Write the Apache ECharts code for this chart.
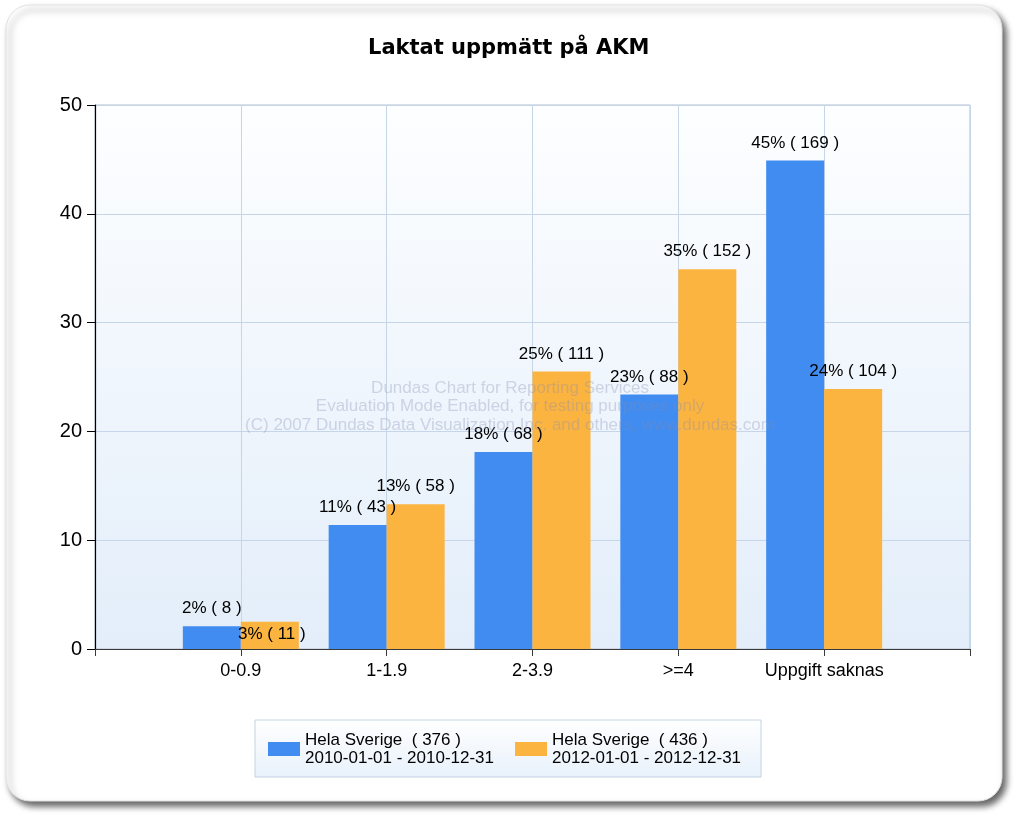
<!DOCTYPE html>
<html>
<head>
<meta charset="utf-8">
<script src="https://cdn.jsdelivr.net/npm/echarts@6/dist/echarts.min.js"></script>
<style>html,body{margin:0;padding:0;background:#fff;}#c{width:1024px;height:819px;}</style>
</head>
<body>
<div id="c"></div>
<script>
// Categories (blank entries pad the axis at both ends, as in the reference)
const categories = ['', '0-0.9', '1-1.9', '2-3.9', '>=4', 'Uppgift saknas', ''];
const yTicks = [0, 10, 20, 30, 40, 50];

// Series 1: Hela Sverige 2010
const s1Name = 'Hela Sverige  ( 376 )\n2010-01-01 - 2010-12-31';
const s1Values = [2.1, 11.4, 18.1, 23.4, 44.9];
const s1Pct = [2, 11, 18, 23, 45];
const s1Count = [8, 43, 68, 88, 169];

// Series 2: Hela Sverige 2012
const s2Name = 'Hela Sverige  ( 436 )\n2012-01-01 - 2012-12-31';
const s2Values = [2.5, 13.3, 25.5, 34.9, 23.9];
const s2Pct = [3, 13, 25, 35, 24];
const s2Count = [11, 58, 111, 152, 104];

const watermark = [
  'Dundas Chart for Reporting Services',
  'Evaluation Mode Enabled, for testing purposes only',
  '(C) 2007 Dundas Data Visualization Inc. and others, www.dundas.com'
];

const FONT = '"Liberation Sans", Arial, sans-serif';

function buildData(values, pct, count, shifted) {
  const out = [null];
  values.forEach((v, i) => {
    const item = { value: v, lbl: pct[i] + '% ( ' + count[i] + ' )' };
    if (shifted && shifted.index === i) {
      item.label = { offset: shifted.offset };
    }
    out.push(item);
  });
  out.push(null);
  return out;
}

const chart = echarts.init(document.getElementById('c'), null, { renderer: 'canvas' });

const labelCfg = {
  show: true,
  position: 'top',
  distance: 9,
  fontFamily: FONT,
  fontSize: 17,
  color: '#000',
  formatter: p => p.data && p.data.lbl ? p.data.lbl : ''
};

chart.setOption({
  animation: false,
  backgroundColor: '#ffffff',
  graphic: [
    {
      type: 'rect',
      z: -100,
      silent: true,
      shape: { x: 6, y: 5, width: 996, height: 796, r: 24 },
      style: {
        fill: '#ffffff',
        stroke: '#e2e2e2',
        lineWidth: 1,
        shadowBlur: 6,
        shadowOffsetX: 4,
        shadowOffsetY: 5,
        shadowColor: 'rgba(0,0,0,0.6)'
      }
    },
    {
      type: 'group',
      z: 100,
      silent: true,
      children: watermark.map((t, i) => ({
        type: 'text',
        z: 100,
        style: {
          text: t,
          x: 510,
          y: 388 + i * 18.5,
          align: 'center',
          verticalAlign: 'middle',
          fontFamily: FONT,
          fontSize: 17,
          fill: 'rgba(130,140,180,0.33)'
        }
      }))
    }
  ],
  title: {
    text: 'Laktat uppmätt på AKM',
    left: 368,
    top: 38,
    padding: 0,
    textStyle: {
      fontFamily: '"DejaVu Sans", Verdana, sans-serif',
      fontWeight: 'bold',
      fontSize: 21,
      color: '#000'
    }
  },
  legend: {
    left: 255,
    top: 720,
    orient: 'horizontal',
    padding: [11, 20, 10, 13],
    itemWidth: 32,
    itemHeight: 14,
    itemGap: 21,
    icon: 'rect',
    backgroundColor: {
      type: 'linear', x: 0, y: 0, x2: 0, y2: 1,
      colorStops: [{ offset: 0, color: '#ffffff' }, { offset: 1, color: '#e8f1fb' }]
    },
    borderColor: '#c4d2e2',
    borderWidth: 1,
    borderRadius: 0,
    textStyle: {
      fontFamily: FONT,
      fontSize: 17,
      lineHeight: 18,
      color: '#000'
    },
    data: [s1Name, s2Name]
  },
  grid: {
    left: 95,
    right: 54,
    top: 105,
    bottom: 170,
    show: true,
    borderColor: '#b4bfd0',
    borderWidth: 1,
    backgroundColor: {
      type: 'linear', x: 0, y: 0, x2: 0, y2: 1,
      colorStops: [{ offset: 0, color: '#fdfeff' }, { offset: 1, color: '#e3eefa' }]
    }
  },
  xAxis: {
    type: 'category',
    data: categories,
    boundaryGap: false,
    axisLine: { show: true, lineStyle: { color: '#3a3a3a', width: 1 } },
    axisTick: { show: true, length: 7, interval: 0, lineStyle: { color: '#3a3a3a' } },
    axisLabel: {
      interval: 0,
      margin: 13,
      fontFamily: FONT,
      fontSize: 18,
      color: '#000'
    },
    splitLine: { show: true, interval: 0, lineStyle: { color: '#c6d6e8', width: 1 } }
  },
  yAxis: {
    type: 'value',
    min: yTicks[0],
    max: yTicks[yTicks.length - 1],
    interval: yTicks[1] - yTicks[0],
    axisLine: { show: true, lineStyle: { color: '#000', width: 1.2 } },
    axisTick: { show: true, length: 8, lineStyle: { color: '#000' } },
    axisLabel: {
      margin: 13,
      fontFamily: FONT,
      fontSize: 20,
      color: '#000'
    },
    splitLine: { show: true, lineStyle: { color: '#c6d6e8', width: 1 } }
  },
  series: [
    {
      name: s1Name,
      type: 'bar',
      barWidth: 58,
      barGap: '0%',
      itemStyle: { color: '#418CF0' },
      label: labelCfg,
      data: buildData(s1Values, s1Pct, s1Count, null)
    },
    {
      name: s2Name,
      type: 'bar',
      barWidth: 58,
      barGap: '0%',
      itemStyle: { color: '#FCB441' },
      label: labelCfg,
      data: buildData(s2Values, s2Pct, s2Count, { index: 0, offset: [2, 30] })
    }
  ]
});
</script>
</body>
</html>
